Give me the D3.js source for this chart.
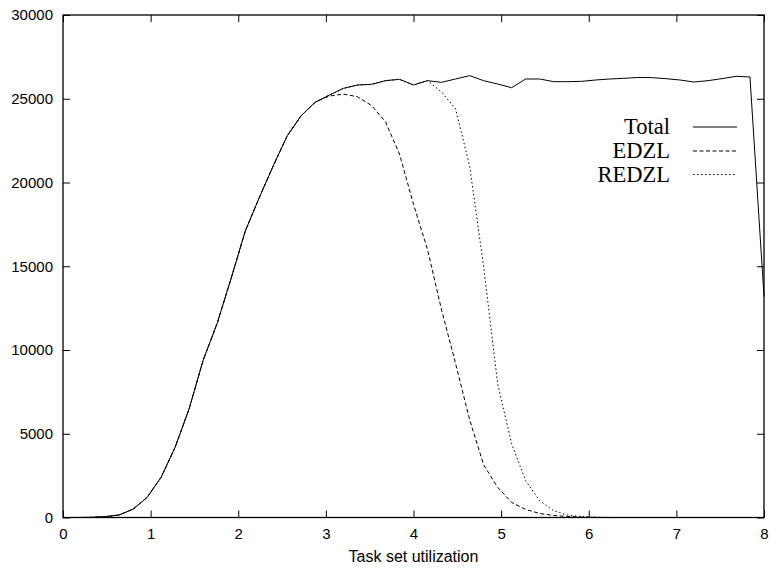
<!DOCTYPE html>
<html>
<head>
<meta charset="utf-8">
<script src="https://cdn.jsdelivr.net/npm/d3@7.9.0/dist/d3.min.js"></script>
<style>
    html, body { margin: 0; padding: 0; background: #fff; }
    svg { display: block; }
</style>
</head>
<body>
<div id="chart"></div>
<script>
"use strict";

// Task set utilization (x) sampled every 0.16
const UTILIZATION = [
    0.00, 0.16, 0.32, 0.48, 0.64, 0.80, 0.96, 1.12, 1.28, 1.44,
    1.60, 1.76, 1.92, 2.08, 2.24, 2.40, 2.56, 2.72, 2.88, 3.04,
    3.20, 3.36, 3.52, 3.68, 3.84, 4.00, 4.16, 4.32, 4.48, 4.64,
    4.80, 4.96, 5.12, 5.28, 5.44, 5.60, 5.76, 5.92, 6.08, 6.24,
    6.40, 6.56, 6.72, 6.88, 7.04, 7.20, 7.36, 7.52, 7.68, 7.84,
    8.00
];

const TOTAL = [
    0, 0, 10, 50, 150, 500, 1200, 2400, 4200, 6500,
    9400, 11600, 14300, 17100, 19100, 21000, 22800, 24000, 24800, 25220,
    25620, 25820, 25860, 26080, 26160, 25820, 26080, 25980, 26180, 26380,
    26080, 25880, 25660, 26180, 26180, 26020, 26020, 26040, 26120, 26180,
    26220, 26270, 26260, 26200, 26120, 26000, 26080, 26200, 26340, 26300,
    13200
];

const EDZL = [
    0, 0, 10, 50, 150, 500, 1200, 2400, 4200, 6500,
    9400, 11600, 14300, 17100, 19100, 21000, 22800, 24000, 24800, 25160,
    25280, 25120, 24600, 23630, 21700, 18700, 16000, 12400, 9200, 5850,
    3150, 1800, 900, 480, 240, 120, 60, 25, 10, 0,
    0, 0, 0, 0, 0, 0, 0, 0, 0, 0,
    0
];

const REDZL = [
    0, 0, 10, 50, 150, 500, 1200, 2400, 4200, 6500,
    9400, 11600, 14300, 17100, 19100, 21000, 22800, 24000, 24800, 25220,
    25620, 25820, 25860, 26080, 26160, 25820, 26080, 25400, 24400, 21000,
    15000, 8000, 4400, 2200, 1000, 400, 140, 50, 15, 0,
    0, 0, 0, 0, 0, 0, 0, 0, 0, 0,
    0
];

const X_TICKS = [0, 1, 2, 3, 4, 5, 6, 7, 8];
const Y_TICKS = [0, 5000, 10000, 15000, 20000, 25000, 30000];

const SERIES = [
    { name: "Total", values: TOTAL, dash: null },
    { name: "EDZL", values: EDZL, dash: "4,2.5" },
    { name: "REDZL", values: REDZL, dash: "1.5,2.5" },
];

const W = 770;
const H = 568;
const margin = { top: 15, right: 6, bottom: 50.5, left: 63 };

const svg = d3.select("#chart").append("svg")
    .attr("width", W)
    .attr("height", H);

const x = d3.scaleLinear()
    .domain([0, 8])
    .range([margin.left, W - margin.right]);

const y = d3.scaleLinear()
    .domain([0, 30000])
    .range([H - margin.bottom, margin.top]);

const tickFont = "'Liberation Sans', Arial, Helvetica, sans-serif";

// Axes, ticks pointing inward, mirrored on top and right
function style_axis(g) {
    g.select(".domain").remove();
    g.selectAll(".tick line").attr("stroke", "#000").attr("stroke-width", 1);
    g.selectAll(".tick text")
        .attr("fill", "#000")
        .style("font-family", tickFont)
        .style("font-size", "15px");
}

svg.append("g")
    .attr("transform", `translate(0, ${y(0)})`)
    .call(d3.axisBottom(x).tickValues(X_TICKS).tickSize(-7).tickSizeOuter(0).tickPadding(11))
    .call(style_axis);

svg.append("g")
    .attr("transform", `translate(0, ${y(30000)})`)
    .call(d3.axisTop(x).tickValues(X_TICKS).tickSize(-7).tickSizeOuter(0).tickFormat(""))
    .call(style_axis);

svg.append("g")
    .attr("transform", `translate(${x(0)}, 0)`)
    .call(d3.axisLeft(y).tickValues(Y_TICKS).tickSize(-7).tickSizeOuter(0).tickPadding(10).tickFormat(d3.format("d")))
    .call(style_axis);

svg.append("g")
    .attr("transform", `translate(${x(8)}, 0)`)
    .call(d3.axisRight(y).tickValues(Y_TICKS).tickSize(-7).tickSizeOuter(0).tickFormat(""))
    .call(style_axis);

// Lines
const line = d3.line()
    .x((d, i) => x(UTILIZATION[i]))
    .y((d) => y(d));

svg.append("g")
    .selectAll("path")
    .data(SERIES)
    .join("path")
    .attr("d", (d) => line(d.values))
    .attr("fill", "none")
    .attr("stroke", "#000")
    .attr("stroke-width", 1)
    .attr("stroke-dasharray", (d) => d.dash);

// Frame
svg.append("rect")
    .attr("x", x(0))
    .attr("y", y(30000))
    .attr("width", x(8) - x(0))
    .attr("height", y(0) - y(30000))
    .attr("fill", "none")
    .attr("stroke", "#000")
    .attr("stroke-width", 1.3);

// Axis title
svg.append("text")
    .attr("x", (x(0) + x(8)) / 2)
    .attr("y", 562)
    .attr("text-anchor", "middle")
    .style("font-family", tickFont)
    .style("font-size", "16px")
    .text("Task set utilization");

// Legend
const legend = svg.append("g");
const legendY = [127, 151, 174.5];

legend.selectAll("text")
    .data(SERIES)
    .join("text")
    .attr("x", 670)
    .attr("y", (d, i) => legendY[i])
    .attr("dy", "0.33em")
    .attr("text-anchor", "end")
    .style("font-family", "'Liberation Serif', 'Times New Roman', serif")
    .style("font-size", "22.5px")
    .text((d) => d.name);

legend.selectAll("line")
    .data(SERIES)
    .join("line")
    .attr("x1", 693)
    .attr("x2", 737)
    .attr("y1", (d, i) => legendY[i])
    .attr("y2", (d, i) => legendY[i])
    .attr("stroke", "#000")
    .attr("stroke-width", 1)
    .attr("stroke-dasharray", (d) => d.dash);
</script>
</body>
</html>
